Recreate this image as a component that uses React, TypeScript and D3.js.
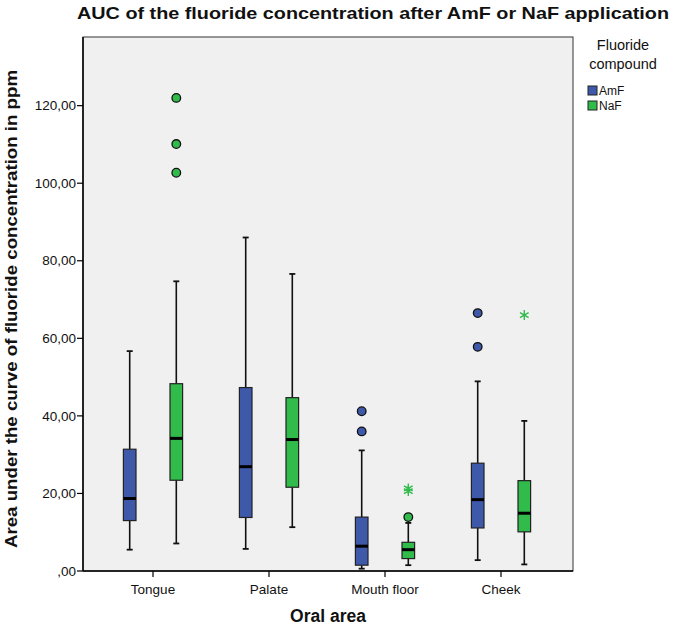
import * as d3 from 'd3';

const areas = ['Tongue', 'Palate', 'Mouth floor', 'Cheek'];
const compounds = ['AmF', 'NaF'];
const yTicks = [0, 20, 40, 60, 80, 100, 120];

// AmF box statistics per oral area
const amfLow = [5.5, 5.7, 0.6, 2.8];
const amfQ1 = [13.0, 13.8, 1.5, 11.1];
const amfMedian = [18.7, 26.9, 6.4, 18.4];
const amfQ3 = [31.4, 47.3, 13.9, 27.8];
const amfHigh = [56.7, 86.0, 31.1, 48.9];
const amfOutliers = [[], [], [41.2, 36.0], [66.5, 57.8]];
const amfExtremes: number[][] = [[], [], [], []];

// NaF box statistics per oral area
const nafLow = [7.1, 11.3, 1.5, 1.7];
const nafQ1 = [23.4, 21.6, 3.2, 10.1];
const nafMedian = [34.2, 33.9, 5.5, 14.9];
const nafQ3 = [48.3, 44.7, 7.4, 23.3];
const nafHigh = [74.7, 76.6, 12.4, 38.7];
const nafOutliers = [[122.0, 110.1, 102.7], [], [13.9], []];
const nafExtremes = [[], [], [20.6, 21.3], [66.0]];

const colors: Record<string, string> = { AmF: '#3e58aa', NaF: '#30bb4b' };

const series = [
  { key: 'AmF', low: amfLow, q1: amfQ1, med: amfMedian, q3: amfQ3, high: amfHigh, out: amfOutliers, ext: amfExtremes },
  { key: 'NaF', low: nafLow, q1: nafQ1, med: nafMedian, q3: nafQ3, high: nafHigh, out: nafOutliers, ext: nafExtremes },
];

const W = 675;
const H = 627;
const left = 83;
const right = 573;
const top = 37;
const bottom = 571;
const font = 'Arial, "Liberation Sans", sans-serif';

export default function App() {
  const x = d3.scaleBand(areas, [95, 559]);
  const sub = d3.scalePoint(compounds, [-23.3, 23.3]);
  const y = d3.scaleLinear([0, 137.7], [bottom, top]);
  const boxW = 12.6;
  const cap = 3;
  const star = d3.symbol(d3.symbolAsterisk, 70);

  return (
    <svg width={W} height={H} style={{ position: 'absolute', left: 0, top: 0, background: '#fff' }} fontFamily={font}>
      <text x={373} y={19} textAnchor="middle" fontSize={17} fontWeight="bold" fill="#111" textLength={592} lengthAdjust="spacingAndGlyphs">
        AUC of the fluoride concentration after AmF or NaF application
      </text>

      <rect x={left} y={top} width={right - left} height={bottom - top} fill="#f0f0f0" stroke="#333" strokeWidth={1} />
      <line x1={left} x2={left} y1={top} y2={bottom} stroke="#000" strokeWidth={1.5} />
      <line x1={left} x2={right} y1={bottom} y2={bottom} stroke="#000" strokeWidth={1.5} />

      {yTicks.map((t) => (
        <g key={t} transform={`translate(0,${y(t)})`}>
          <line x1={left - 6} x2={left} stroke="#000" strokeWidth={1.2} />
          <text x={left - 7} dy="0.35em" textAnchor="end" fontSize={13.5} fill="#111">
            {t === 0 ? ',00' : `${t},00`}
          </text>
        </g>
      ))}

      {areas.map((a) => {
        const cx = x(a)! + x.bandwidth() / 2;
        return (
          <g key={a}>
            <line x1={cx} x2={cx} y1={bottom} y2={bottom + 6} stroke="#000" strokeWidth={1.2} />
            <text x={cx} y={594} textAnchor="middle" fontSize={13.5} fill="#111">{a}</text>
          </g>
        );
      })}

      {series.map((s) => (
        <g key={s.key}>
          {areas.map((a, i) => {
            const cx = x(a)! + x.bandwidth() / 2 + sub(s.key)!;
            return (
              <g key={a}>
                <line x1={cx} x2={cx} y1={y(s.high[i])} y2={y(s.q3[i])} stroke="#111" strokeWidth={1.6} />
                <line x1={cx} x2={cx} y1={y(s.q1[i])} y2={y(s.low[i])} stroke="#111" strokeWidth={1.6} />
                <line x1={cx - cap} x2={cx + cap} y1={y(s.high[i])} y2={y(s.high[i])} stroke="#111" strokeWidth={1.8} />
                <line x1={cx - cap} x2={cx + cap} y1={y(s.low[i])} y2={y(s.low[i])} stroke="#111" strokeWidth={1.8} />
                <rect
                  x={cx - boxW / 2}
                  y={y(s.q3[i])}
                  width={boxW}
                  height={y(s.q1[i]) - y(s.q3[i])}
                  fill={colors[s.key]}
                  stroke="#222"
                  strokeWidth={1.2}
                />
                <line x1={cx - boxW / 2} x2={cx + boxW / 2} y1={y(s.med[i])} y2={y(s.med[i])} stroke="#000" strokeWidth={3} />
                {s.out[i].map((v, j) => (
                  <circle key={j} cx={cx} cy={y(v)} r={4.3} fill={colors[s.key]} stroke="#111" strokeWidth={1.3} />
                ))}
                {s.ext[i].map((v, j) => (
                  <path key={j} d={star()!} transform={`translate(${cx},${y(v)})`} fill="none" stroke={colors[s.key]} strokeWidth={1.4} />
                ))}
              </g>
            );
          })}
        </g>
      ))}

      <text transform={`translate(17,${(top + bottom) / 2 + 5}) rotate(-90)`} textAnchor="middle" fontSize={16} fontWeight="bold" fill="#111" textLength={478} lengthAdjust="spacingAndGlyphs">
        Area under the curve of fluoride concentration in ppm
      </text>
      <text x={328} y={622} textAnchor="middle" fontSize={17.5} fontWeight="bold" fill="#111">Oral area</text>

      <text x={623} y={50} textAnchor="middle" fontSize={14.5} fill="#111">Fluoride</text>
      <text x={623} y={69} textAnchor="middle" fontSize={14.5} fill="#111">compound</text>
      {compounds.map((c, i) => (
        <g key={c} transform={`translate(588,${86 + i * 15})`}>
          <rect width={9} height={9} fill={colors[c]} stroke="#222" strokeWidth={1} />
          <text x={11} y={9} fontSize={12} fill="#111">{c}</text>
        </g>
      ))}
    </svg>
  );
}
